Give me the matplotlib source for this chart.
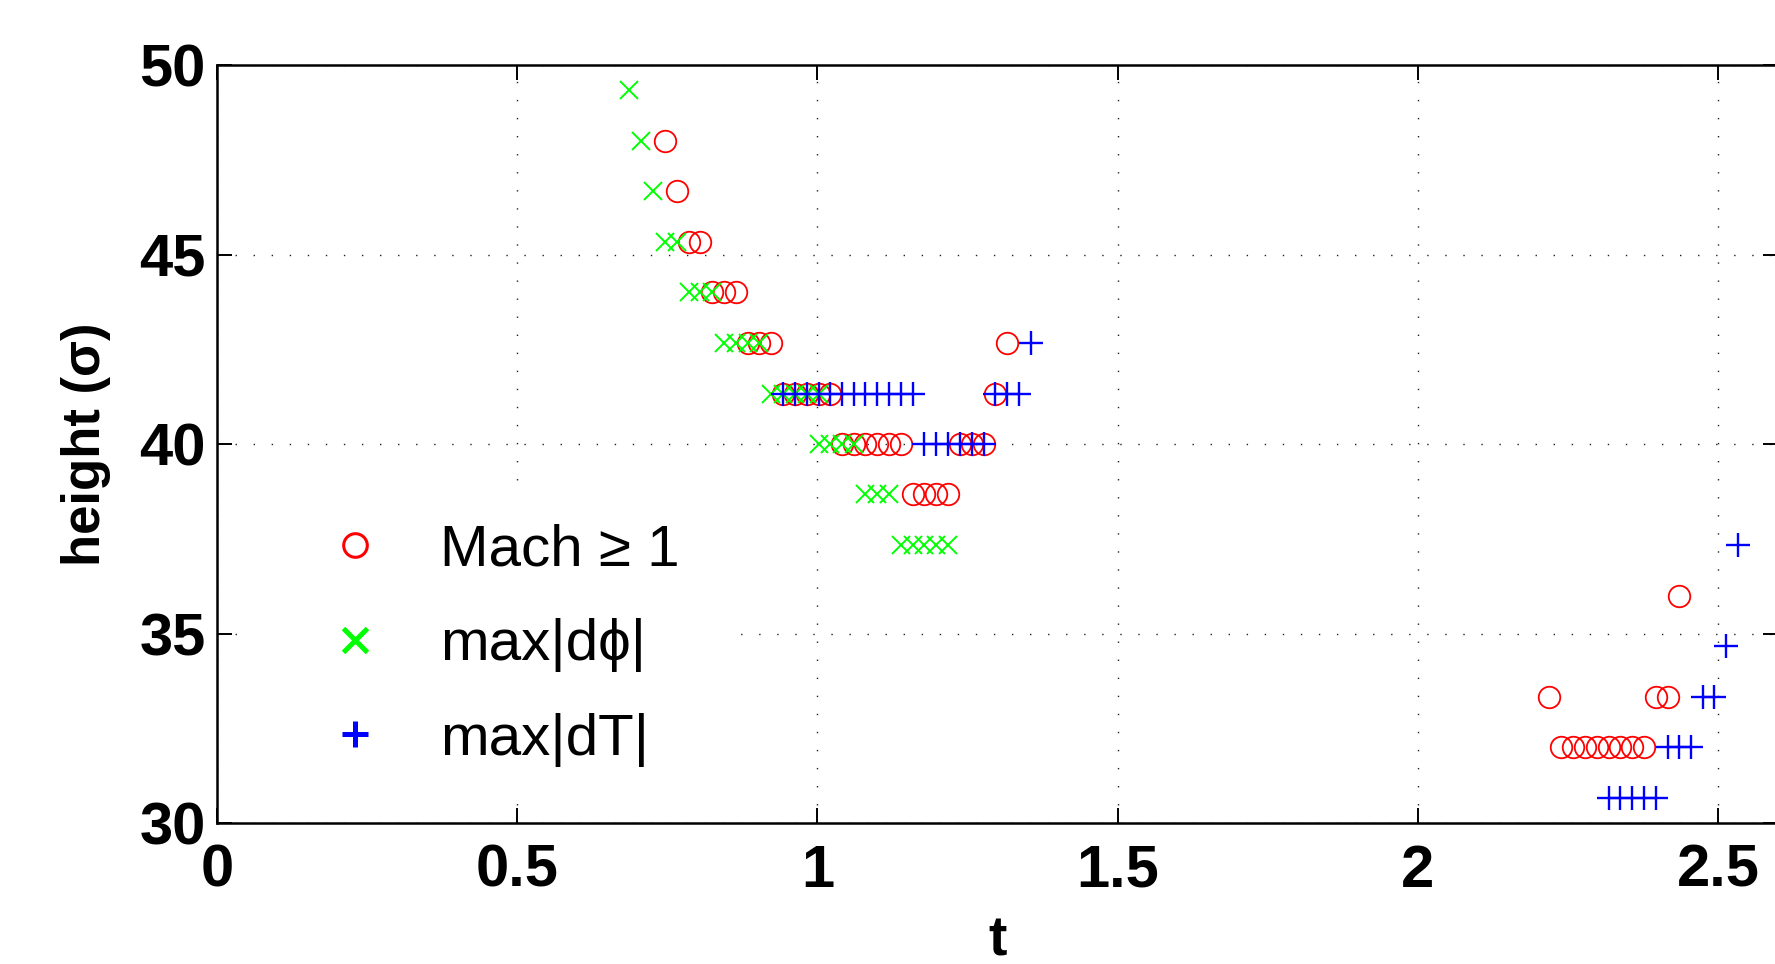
import matplotlib
matplotlib.use('Agg')
import matplotlib.pyplot as plt
from matplotlib.lines import Line2D
from matplotlib.patches import Rectangle

plt.rcParams['font.family'] = ['Liberation Sans', 'DejaVu Sans']

# ---------------- data ----------------
# Mach >= 1 (red circles)
mach_t = [0.746,
          0.766,
          0.786, 0.805,
          0.825, 0.845, 0.864,
          0.884, 0.903, 0.923, 1.316,
          0.943, 0.962, 0.982, 1.002, 1.021, 1.296,
          1.041, 1.061, 1.080, 1.100, 1.120, 1.139, 1.237, 1.257, 1.277,
          1.159, 1.178, 1.198, 1.218,
          2.435,
          2.219, 2.396, 2.416,
          2.239, 2.259, 2.278, 2.298, 2.318, 2.337, 2.357, 2.376]
mach_h = [48.0,
          46.67,
          45.33, 45.33,
          44.0, 44.0, 44.0,
          42.67, 42.67, 42.67, 42.67,
          41.33, 41.33, 41.33, 41.33, 41.33, 41.33,
          40.0, 40.0, 40.0, 40.0, 40.0, 40.0, 40.0, 40.0, 40.0,
          38.67, 38.67, 38.67, 38.67,
          36.0,
          33.33, 33.33, 33.33,
          32.0, 32.0, 32.0, 32.0, 32.0, 32.0, 32.0, 32.0]

# max|dphi| (green crosses)
dphi_t = [0.687,
          0.707,
          0.727,
          0.746, 0.766,
          0.786, 0.805, 0.825,
          0.845, 0.864, 0.884, 0.903,
          0.923, 0.943, 0.962, 0.982, 1.002,
          1.002, 1.021, 1.041, 1.061,
          1.080, 1.100, 1.120,
          1.139, 1.159, 1.178, 1.198, 1.218]
dphi_h = [49.33,
          48.0,
          46.67,
          45.33, 45.33,
          44.0, 44.0, 44.0,
          42.67, 42.67, 42.67, 42.67,
          41.33, 41.33, 41.33, 41.33, 41.33,
          40.0, 40.0, 40.0, 40.0,
          38.67, 38.67, 38.67,
          37.33, 37.33, 37.33, 37.33, 37.33]

# max|dT| (blue pluses)
dT_t = [1.355,
        0.943, 0.962, 0.982, 1.002, 1.021, 1.041, 1.061, 1.080, 1.100, 1.120,
        1.139, 1.159, 1.296, 1.316, 1.336,
        1.178, 1.198, 1.218, 1.237, 1.257, 1.277,
        2.534,
        2.514,
        2.475, 2.494,
        2.416, 2.435, 2.455,
        2.318, 2.337, 2.357, 2.376, 2.396]
dT_h = [42.67,
        41.33, 41.33, 41.33, 41.33, 41.33, 41.33, 41.33, 41.33, 41.33, 41.33,
        41.33, 41.33, 41.33, 41.33, 41.33,
        40.0, 40.0, 40.0, 40.0, 40.0, 40.0,
        37.33,
        34.67,
        33.33, 33.33,
        32.0, 32.0, 32.0,
        30.67, 30.67, 30.67, 30.67, 30.67]

xticks = [0, 0.5, 1, 1.5, 2, 2.5]
xticklabels = ['0', '0.5', '1', '1.5', '2', '2.5']
yticks = [30, 35, 40, 45, 50]
yticklabels = ['30', '35', '40', '45', '50']
legend_labels = ['Mach \u2265 1', 'max|d\u03d5|', 'max|dT|']

# ---------------- figure ----------------
W, H = 1775, 964
fig = plt.figure(figsize=(W / 100, H / 100), dpi=100)
ax = fig.add_axes([217 / W, (H - 823) / H, 1561 / W, 758 / H])

ax.plot(mach_t, mach_h, ls='none', marker='o', mfc='none', mec=(1, 0, 0),
        ms=15.5, mew=1.3)
ax.plot(dphi_t, dphi_h, ls='none', marker='x', color=(0, 1, 0),
        ms=12.5, mew=1.4)
ax.plot(dT_t, dT_h, ls='none', marker='+', color=(0, 0, 1),
        ms=17, mew=1.7)

ax.set_xlim(0, 2.6)
ax.set_ylim(30, 50)
ax.set_xticks(xticks)
ax.set_xticklabels(xticklabels, fontsize=43, fontweight='bold')
ax.set_yticks(yticks)
ax.set_yticklabels(yticklabels, fontsize=43, fontweight='bold')

ax.tick_params(direction='in', length=10.8, width=1.4, top=True, right=True,
               colors='black')
ax.tick_params(axis='x', pad=15)
ax.tick_params(axis='y', pad=8)
for s in ax.spines.values():
    s.set_linewidth(1.8)
    s.set_color('black')

ax.grid(True, linestyle=(0, (1, 12)), linewidth=1.0, color='#222222')

ax.set_xlabel('t', fontsize=40, fontweight='bold')
ax.xaxis.set_label_coords(0.5, -0.122)
ax.set_ylabel('height (\u03c3)', fontsize=38, fontweight='bold')
ax.yaxis.set_label_coords(-0.068, 0.5)

# legend background (white box hiding the grid)
ax.add_patch(Rectangle((0.023, 0.036), 0.306, 0.41, transform=ax.transAxes,
                       facecolor='white', edgecolor='none', zorder=1.8))

h1 = Line2D([], [], ls='none', marker='o', mfc='none', mec=(1, 0, 0),
            ms=17, mew=2.2)
h2 = Line2D([], [], ls='none', marker='x', color=(0, 1, 0), ms=17, mew=3.6)
h3 = Line2D([], [], ls='none', marker='+', color=(0, 0, 1), ms=18.5, mew=3.6)
ax.legend([h1, h2, h3], legend_labels, loc='center left',
          bbox_to_anchor=(326 / W, 1 - 645 / H), bbox_transform=fig.transFigure,
          frameon=False, borderpad=0, borderaxespad=0, handlelength=1.0,
          handletextpad=0.95, labelspacing=0.7, numpoints=1,
          prop=dict(family=['Liberation Sans', 'DejaVu Sans'], size=42))

fig.savefig('out.png', dpi=100)
